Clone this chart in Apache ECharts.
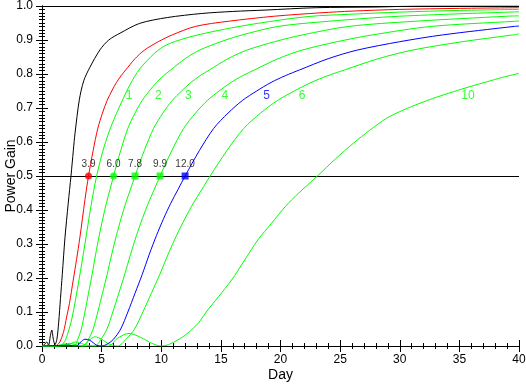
<!DOCTYPE html>
<html>
<head>
<meta charset="utf-8">
<script src="https://cdn.jsdelivr.net/npm/echarts@6/dist/echarts.min.js"></script>
<style>html,body{margin:0;padding:0;background:#fff}#c{width:526px;height:384px}</style>
</head>
<body>
<div id="c"></div>
<script>
// ---- data: [day, power gain] ----
const black = [[0,0],[0.2,0.004],[0.4,0.012],[0.55,0.002],[0.7,0.03],[0.82,0.047],[0.95,0.02],[1.09,0.004],[1.25,0.02],[1.4,0.07],[1.55,0.14],[1.7,0.21],[1.93,0.32],[2.2,0.42],[2.43,0.5],[2.63,0.576],[2.77,0.626],[3.13,0.724],[3.5,0.78],[4.02,0.82],[4.86,0.871],[5.6,0.9],[6.54,0.92],[8.2,0.949],[10.5,0.966],[13.4,0.978],[16,0.984],[18.7,0.988],[23,0.995],[28,0.997],[32,1.0],[40,1.0]];
const red = [[0,0],[1.1,0],[1.3,0.004],[1.5,0.012],[1.8,0.04],[2.07,0.086],[2.3,0.125],[2.62,0.194],[2.9,0.255],[3.18,0.32],[3.6,0.43],[3.9,0.5],[4.29,0.575],[4.68,0.64],[5.07,0.685],[5.46,0.722],[5.85,0.75],[6.24,0.775],[6.63,0.795],[7.02,0.812],[7.8,0.845],[8.58,0.87],[9.75,0.895],[10.92,0.915],[12.87,0.94],[15.6,0.955],[19.5,0.97],[23.4,0.98],[26,0.985],[30,0.99],[35,0.993],[40,0.995]];
const green1 = [[0,0],[1.5,0],[1.75,0.006],[2.0,0.02],[2.5,0.08],[3.1,0.194],[3.6,0.3],[4.1,0.41],[4.58,0.5],[5.2,0.585],[5.84,0.65],[6.68,0.718],[7.4,0.77],[8.2,0.815],[9.47,0.862],[10.4,0.885],[12,0.905],[13.7,0.92],[15.8,0.935],[18.1,0.949],[22.3,0.969],[26,0.976],[30,0.982],[35,0.987],[40,0.99]];
const green2 = [[0,0],[1.3,0.001],[1.9,0.006],[2.4,0.002],[2.7,0],[3.0,0.02],[3.3,0.05],[3.6,0.1],[3.9,0.155],[4.2,0.21],[4.5,0.27],[4.8,0.325],[5.1,0.375],[5.4,0.42],[5.7,0.46],[6.0,0.5],[6.6,0.575],[7.2,0.64],[7.8,0.685],[8.4,0.722],[9.0,0.75],[9.6,0.775],[10.2,0.795],[10.8,0.812],[12,0.845],[13.2,0.87],[15,0.895],[16.8,0.915],[19.8,0.94],[24,0.955],[30,0.97],[40,0.983]];
const green3 = [[0,0],[1.6,0.001],[2.3,0.008],[2.9,0.003],[3.51,0],[3.9,0.02],[4.29,0.05],[4.68,0.1],[5.07,0.155],[5.46,0.21],[5.85,0.27],[6.24,0.325],[6.63,0.375],[7.02,0.42],[7.41,0.46],[7.8,0.5],[8.58,0.575],[9.36,0.64],[10.14,0.685],[10.92,0.722],[11.7,0.75],[12.48,0.775],[13.26,0.795],[14.04,0.812],[15.6,0.845],[17.16,0.87],[19.5,0.895],[21.84,0.915],[25.74,0.94],[31.2,0.955],[39,0.97],[40,0.971]];
const green4 = [[0,0],[2.0,0.001],[2.8,0.012],[3.5,0.005],[4.0,0.001],[4.46,0],[4.95,0.02],[5.45,0.05],[5.94,0.1],[6.44,0.155],[6.93,0.21],[7.43,0.27],[7.92,0.325],[8.42,0.375],[8.91,0.42],[9.41,0.46],[9.9,0.5],[10.89,0.575],[11.88,0.64],[12.87,0.685],[13.86,0.722],[14.85,0.75],[15.84,0.775],[16.83,0.795],[17.82,0.812],[19.8,0.845],[21.78,0.87],[24.75,0.895],[27.72,0.915],[32.67,0.94],[39.6,0.955],[40,0.956]];
const blue5 = [[0,0],[2.2,0.002],[2.9,0],[3.2,0.01],[3.6,0.02],[4.0,0.017],[4.6,0.002],[5.0,0],[5.5,0.006],[6.0,0.02],[6.6,0.05],[7.2,0.1],[7.8,0.155],[8.4,0.21],[9.0,0.27],[9.6,0.325],[10.2,0.375],[10.8,0.42],[11.4,0.46],[12,0.5],[13.2,0.575],[14.4,0.64],[15.6,0.685],[16.8,0.722],[18,0.75],[19.2,0.775],[20.4,0.795],[21.6,0.812],[24,0.845],[26.4,0.87],[30,0.895],[33.6,0.915],[39.6,0.94],[40,0.941]];
const green6 = [[0,0],[2.8,0.002],[3.4,0],[3.9,0.015],[4.44,0.027],[5.0,0.02],[5.6,0.006],[6.35,0],[7.05,0.02],[7.76,0.05],[8.46,0.1],[9.17,0.155],[9.87,0.21],[10.58,0.27],[11.28,0.325],[11.99,0.375],[12.69,0.42],[13.4,0.46],[14.1,0.5],[15.51,0.575],[16.92,0.64],[18.33,0.685],[19.74,0.722],[21.15,0.75],[22.56,0.775],[23.97,0.795],[25.38,0.812],[28.2,0.845],[31.02,0.87],[35.25,0.895],[39.48,0.915],[40,0.918]];
const green10 = [[0,0],[5.6,0],[6.3,0.022],[7.3,0.037],[8.3,0.025],[9.2,0.008],[10.0,0],[10.6,0.004],[11.4,0.018],[12.2,0.037],[13.1,0.067],[13.9,0.106],[14.8,0.145],[15.9,0.194],[17.0,0.253],[18.1,0.312],[19.25,0.361],[20.4,0.41],[21.5,0.449],[23.1,0.5],[24.6,0.55],[26.1,0.596],[27.5,0.635],[28.9,0.67],[30.3,0.694],[31.7,0.714],[33.1,0.732],[34.5,0.748],[35.9,0.763],[37.3,0.777],[38.6,0.79],[40,0.802]];

const halfDays = [3.9, 6.0, 7.8, 9.9, 12.0];
const halfLabels = ['3.9', '6.0', '7.8', '9.9', '12.0'];
const halfLevel = 0.5;

const curveLabels = ['1', '2', '3', '4', '5', '6', '10'];
const curveLabelDays = [7.3, 9.75, 12.27, 15.34, 18.83, 21.82, 35.72];
const curveLabelGain = 0.735;

const xTicks = {min: 0, max: 40, interval: 5};
const yTicks = {min: 0, max: 1, interval: 0.1};

// ---- styling ----
const GREEN = '#00ff00', RED = '#ff0000', BLUE = '#0000ff', BLACK = '#000000';
const FONT = 'Liberation Sans, Arial, Helvetica, sans-serif';

function xAxisCfg(pos, showLabel) {
  return {
    type: 'value', position: pos, min: xTicks.min, max: xTicks.max, interval: xTicks.interval,
    axisLine: {show: true, lineStyle: {color: BLACK, width: 1}},
    axisTick: {show: true, inside: true, length: 6, lineStyle: {color: BLACK, width: 1}},
    minorTick: {show: true, splitNumber: 5, length: 3, lineStyle: {color: BLACK, width: 1}},
    splitLine: {show: false},
    axisLabel: {show: showLabel, color: BLACK, fontFamily: FONT, fontSize: 12, margin: 8},
    name: showLabel ? 'Day' : '', nameLocation: 'middle', nameGap: 22, nameMoveOverlap: false,
    nameTextStyle: {color: BLACK, fontFamily: FONT, fontSize: 14}
  };
}
function yAxisCfg(pos, showLabel) {
  return {
    type: 'value', position: pos, min: yTicks.min, max: yTicks.max, interval: yTicks.interval,
    axisLine: {show: true, lineStyle: {color: BLACK, width: 1}},
    axisTick: {show: true, inside: true, length: 6, lineStyle: {color: BLACK, width: 1}},
    minorTick: {show: true, splitNumber: 10, length: 3, lineStyle: {color: BLACK, width: 1}},
    splitLine: {show: false},
    axisLabel: {show: showLabel, color: BLACK, fontFamily: FONT, fontSize: 12, margin: 9,
      formatter: v => v.toFixed(1)},
    name: showLabel ? 'Power Gain' : '', nameLocation: 'middle', nameGap: 24, nameRotate: 90,
    nameMoveOverlap: false,
    nameTextStyle: {color: BLACK, fontFamily: FONT, fontSize: 14}
  };
}
function curve(data, color) {
  return {type: 'line', data: data, xAxisIndex: 0, yAxisIndex: 0, showSymbol: false, symbol: 'none',
    lineStyle: {color: color, width: 1}, itemStyle: {color: color}, smooth: 0.3, silent: true, z: 3};
}

const markerColors = [RED, GREEN, GREEN, GREEN, BLUE];
const markerShapes = ['circle', 'circle', 'rect', 'rect', 'rect'];

// helper axis whose split line draws the crisp half-power reference line
const refAxis = {
  type: 'value', position: 'right', min: yTicks.min, max: yTicks.max, interval: halfLevel,
  axisLine: {show: false}, axisTick: {show: false}, axisLabel: {show: false},
  splitLine: {show: true, lineStyle: {color: BLACK, width: 1}}
};

const chart = echarts.init(document.getElementById('c'), null, {renderer: 'canvas'});
chart.setOption({
  animation: false,
  backgroundColor: '#fff',
  grid: {left: 42, right: 7, top: 6, bottom: 38, outerBoundsMode: 'none'},
  xAxis: [xAxisCfg('bottom', true), xAxisCfg('top', false)],
  yAxis: [yAxisCfg('left', true), yAxisCfg('right', false), refAxis],
  series: [
    curve(black, BLACK),
    curve(red, RED),
    curve(green1, GREEN),
    curve(green2, GREEN),
    curve(green3, GREEN),
    curve(green4, GREEN),
    curve(green6, GREEN),
    curve(green10, GREEN),
    curve(blue5, BLUE),
    {type: 'scatter', z: 5, silent: true,
      data: halfDays.map((d, i) => ({value: [d, halfLevel], symbol: markerShapes[i], symbolSize: 7,
        itemStyle: {color: markerColors[i]},
        label: {show: true, position: 'top', distance: 3, formatter: halfLabels[i], color: BLACK,
          fontFamily: FONT, fontSize: 10}}))},
    {type: 'scatter', z: 5, silent: true, symbolSize: 1, itemStyle: {color: 'rgba(0,0,0,0)'},
      data: curveLabelDays.map((d, i) => ({value: [d, curveLabelGain],
        label: {show: true, position: 'inside', formatter: curveLabels[i],
          color: curveLabels[i] === '5' ? BLUE : GREEN, fontFamily: FONT, fontSize: 12}}))}
  ]
});
</script>
</body>
</html>
